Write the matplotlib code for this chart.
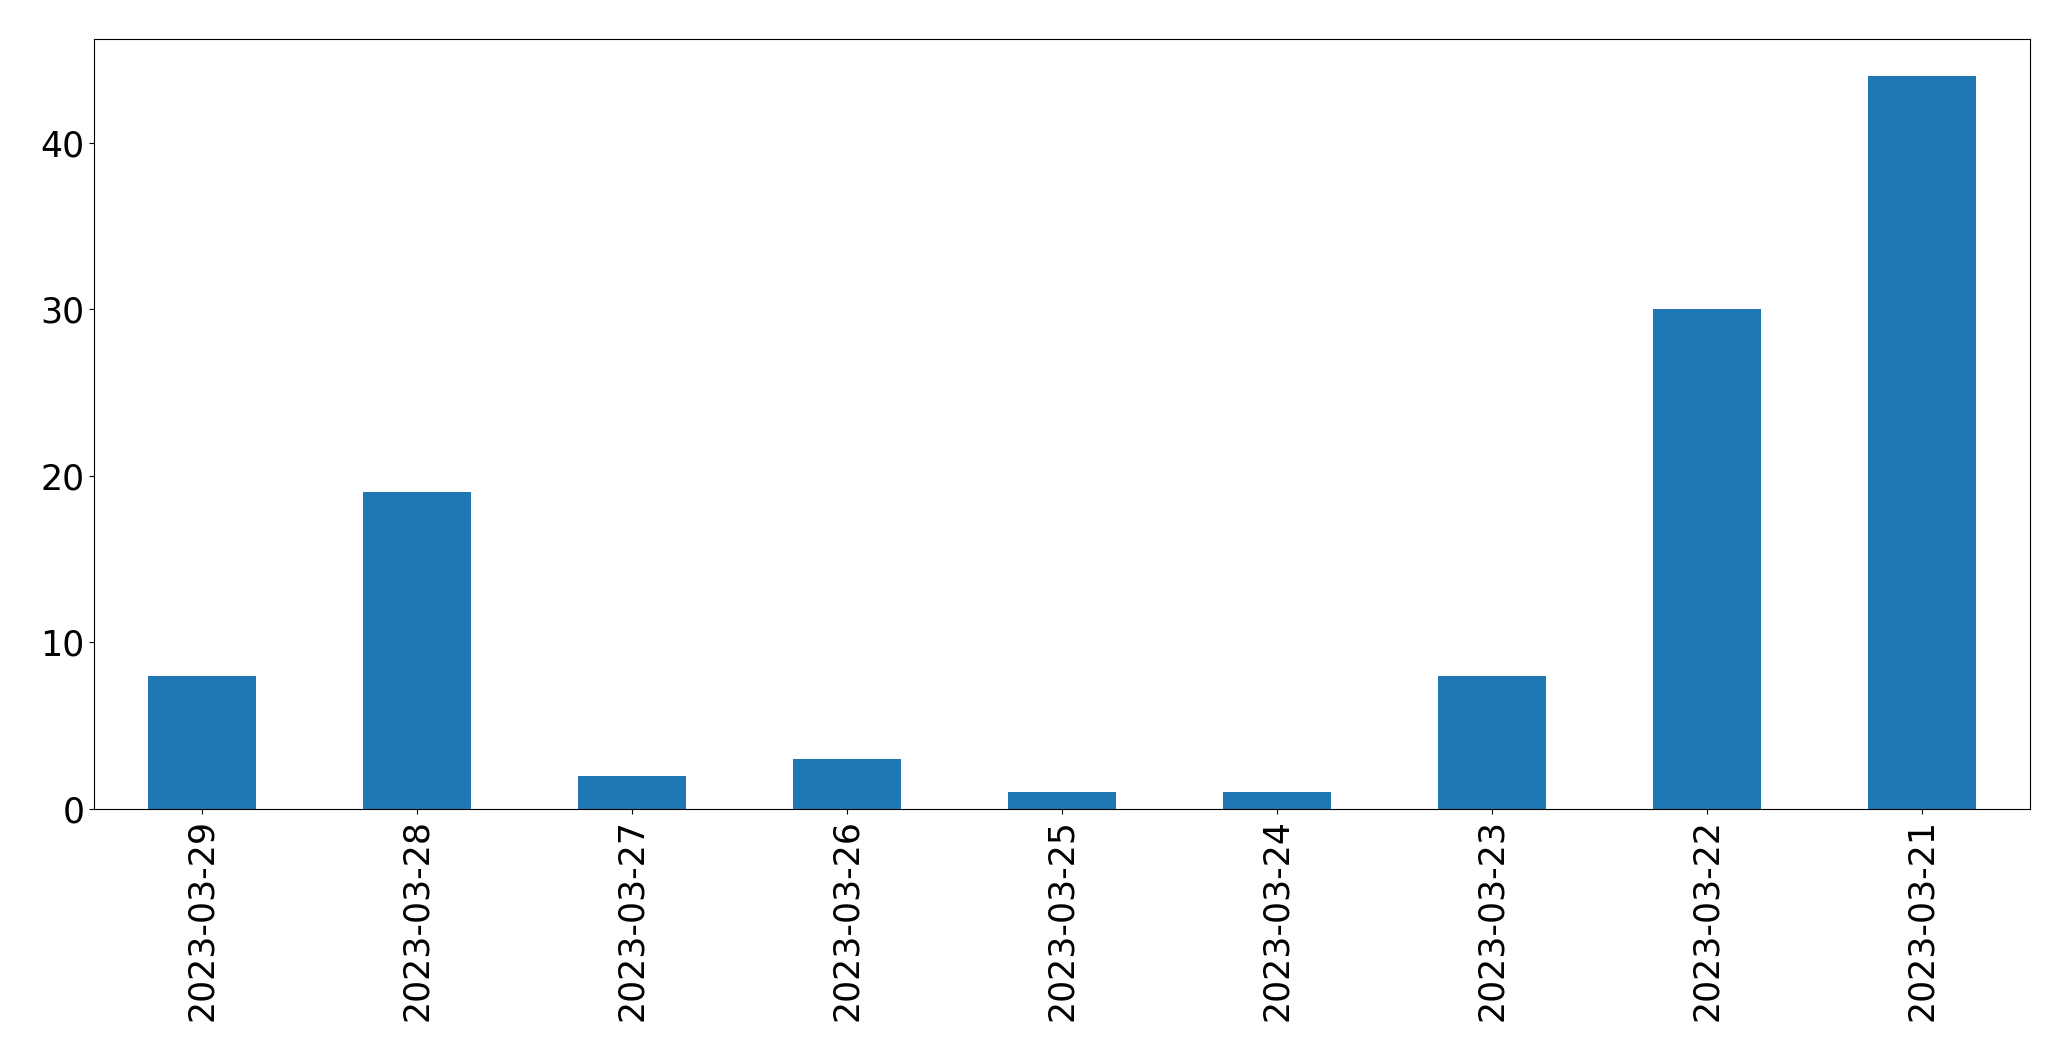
import matplotlib
matplotlib.use("Agg")
import matplotlib.pyplot as plt

dates = ["2023-03-29", "2023-03-28", "2023-03-27", "2023-03-26", "2023-03-25",
         "2023-03-24", "2023-03-23", "2023-03-22", "2023-03-21"]
counts = [8, 19, 2, 3, 1, 1, 8, 30, 44]

fig = plt.figure(figsize=(20.71, 10.61), dpi=100)
ax = fig.add_axes([0.0455, 0.2375, 0.9345, 0.7255])
x = range(len(dates))
ax.bar(x, counts, width=0.5, color="#1f77b4")
ax.set_xlim(-0.5, len(dates) - 0.5)
ax.set_xticks(list(x))
ax.set_xticklabels(dates, rotation=90)
ax.tick_params(labelsize=25)
fig.savefig("out.png", dpi=100)
